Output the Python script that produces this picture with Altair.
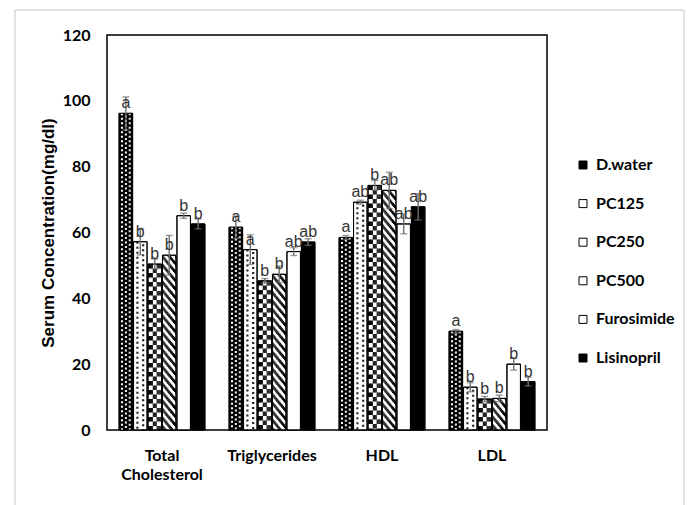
import altair as alt
import pandas as pd

categories = ["Total Cholesterol", "Triglycerides", "HDL", "LDL"]
groups = ["D.water", "PC125", "PC250", "PC500", "Furosimide", "Lisinopril"]

# mean serum concentration (mg/dl), one list per group in category order
d_water = [96.2, 61.6, 58.5, 30.0]
pc125 = [57.2, 54.8, 69.2, 13.0]
pc250 = [50.4, 45.3, 74.3, 9.4]
pc500 = [53.1, 47.3, 72.8, 9.6]
furosimide = [65.1, 54.2, 62.6, 20.0]
lisinopril = [62.6, 57.1, 67.8, 14.7]

# half-length of each error bar (mg/dl)
err_d_water = [5.0, 3.4, 0.6, 0.5]
err_pc125 = [4.0, 4.5, 0.6, 1.4]
err_pc250 = [1.5, 0.7, 1.5, 0.8]
err_pc500 = [6.0, 2.5, 5.5, 1.0]
err_furosimide = [0.8, 1.2, 3.0, 1.8]
err_lisinopril = [1.5, 1.0, 4.0, 1.3]

# significance letters
let_d_water = ["a", "a", "a", "a"]
let_pc125 = ["b", "a", "ab", "b"]
let_pc250 = ["b", "b", "b", "b"]
let_pc500 = ["b", "b", "ab", "b"]
let_furosimide = ["b", "ab", "ab", "b"]
let_lisinopril = ["b", "ab", "ab", "b"]

means = [d_water, pc125, pc250, pc500, furosimide, lisinopril]
errs = [err_d_water, err_pc125, err_pc250, err_pc500, err_furosimide, err_lisinopril]
letters = [let_d_water, let_pc125, let_pc250, let_pc500, let_furosimide, let_lisinopril]

rows = []
for gi, g in enumerate(groups):
    for ci, c in enumerate(categories):
        m, e = means[gi][ci], errs[gi][ci]
        rows.append({"category": c, "group": g, "value": m,
                     "lo": m - e, "hi": m + e, "letter": letters[gi][ci]})
df = pd.DataFrame(rows)

BOLD = "Lato, Liberation Sans, sans-serif"
WIDE = "Liberation Sans, Arial, sans-serif"
ERR_COLOR = "#707070"

x_enc = alt.X(
    "category:N", sort=categories,
    scale=alt.Scale(domain=categories, paddingInner=0.22, paddingOuter=0.11),
    axis=alt.Axis(title=None, labelAngle=0, ticks=False, domain=False,
                  labelFont=BOLD, labelFontSize=16, labelFontWeight="bold",
                  labelColor="black", labelPadding=17, labelLineHeight=19,
                  labelExpr="datum.label == 'Total Cholesterol' ? ['Total', 'Cholesterol'] : datum.label"),
)
y_scale = alt.Scale(domain=[0, 120], nice=False)
y_axis = alt.Axis(values=[0, 20, 40, 60, 80, 100, 120], grid=False, ticks=False,
                  domain=False, tickSize=0, labelPadding=17,
                  labelFont=BOLD, labelFontSize=16, labelFontWeight="bold",
                  labelColor="black", title="Serum Concentration(mg/dl)",
                  titleFont=WIDE, titleFontSize=17, titleFontWeight="bold",
                  titleColor="black", titlePadding=5)

group_off = alt.XOffset("group:N",
                        scale=alt.Scale(domain=groups, paddingInner=1 / 15, paddingOuter=0))

# Filled bars (solid base colour of every pattern) carrying the legend
bars = alt.Chart(df).mark_bar(stroke="black", strokeWidth=1).encode(
    x=x_enc,
    y=alt.Y("value:Q", scale=y_scale, axis=y_axis),
    xOffset=group_off,
    fill=alt.Fill("group:N",
                  scale=alt.Scale(domain=groups,
                                  range=["black", "white", "white", "white", "white", "black"]),
                  legend=alt.Legend(title=None, orient="none", legendX=468, legendY=122,
                                    symbolType="square", symbolSize=64,
                                    symbolStrokeColor="black", symbolStrokeWidth=1,
                                    labelFont=BOLD, labelFontSize=16,
                                    labelFontWeight="bold", labelColor="black",
                                    labelOffset=5, rowPadding=22.6, padding=0)),
)

# Hatch textures: each bar is split into 1-px column slots; each textured
# column is a dashed rule running from the bar top down to zero.
def slot_key(i, j):
    return f"{i}-{j:02d}"

slot_domain = [slot_key(i, j) for i in range(6) for j in range(15 if i < 5 else 14)]
slot_off_scale = alt.Scale(domain=slot_domain, paddingInner=0, paddingOuter=0)

texture_styles = []  # (group, slots, colour, dash, dash offset)
texture_styles.append(("D.water", [2, 3, 10, 11], "white", [2.0, 2.5], 0))
texture_styles.append(("D.water", [6, 7], "white", [2.0, 2.5], 2.25))
texture_styles.append(("PC125", [3, 4], "black", [2.0, 3.0], 0))
texture_styles.append(("PC125", [9, 10], "black", [2.0, 3.0], 2.5))
texture_styles.append(("PC250", [0, 1, 2, 3, 4, 9, 10, 11, 12, 13], "black", [4.5, 4.5], 0))
texture_styles.append(("PC250", [5, 6, 7, 8], "black", [4.5, 4.5], 4.5))
slot_px = 85.8 / 89
for j in range(14):
    period = 8.5
    texture_styles.append(("PC500", [j], "black", [4.0, 4.5],
                           round((period - 1.2 * slot_px * j) % period, 2)))

texture_layers = []
for g, slots, colour, dash, offset in texture_styles:
    gi = groups.index(g)
    sub = df[df["group"] == g][["category", "value"]]
    tex = pd.concat([sub.assign(slot=slot_key(gi, j)) for j in slots], ignore_index=True)
    texture_layers.append(
        alt.Chart(tex).mark_rule(stroke=colour, strokeWidth=1.05, strokeDash=dash,
                                 strokeDashOffset=offset, strokeCap="butt").encode(
            x=x_enc,
            y=alt.Y("value:Q", scale=y_scale),
            y2=alt.datum(0),
            xOffset=alt.XOffset("slot:N", scale=slot_off_scale),
        )
    )
textures = alt.layer(*texture_layers)

base = alt.Chart(df).encode(x=x_enc, xOffset=group_off)
outline = base.mark_bar(fillOpacity=0, stroke="black", strokeWidth=1).encode(
    y=alt.Y("value:Q", scale=y_scale))
err_line = base.mark_rule(color=ERR_COLOR, strokeWidth=1.4).encode(
    y=alt.Y("lo:Q", scale=y_scale), y2="hi:Q")
cap_hi = base.mark_tick(color=ERR_COLOR, size=7, thickness=1.4).encode(
    y=alt.Y("hi:Q", scale=y_scale))
cap_lo = base.mark_tick(color=ERR_COLOR, size=7, thickness=1.4).encode(
    y=alt.Y("lo:Q", scale=y_scale))
labels = base.mark_text(font=WIDE, fontSize=16, color="#333333", dy=-5,
                        baseline="alphabetic").encode(
    y=alt.Y("value:Q", scale=y_scale), text="letter:N")
top = alt.layer(outline, err_line, cap_hi, cap_lo, labels)

# light chart-area border
edge = pd.DataFrame({"edge": [0]})
border_top = alt.Chart(edge).mark_rule(color="#d9d9d9", strokeWidth=1.5).encode(
    x=alt.value(-92), x2=alt.value(577), y=alt.value(-25))
border_left = alt.Chart(edge).mark_rule(color="#d9d9d9", strokeWidth=1.5).encode(
    x=alt.value(-92), y=alt.value(-25), y2=alt.value(475))
border_right = alt.Chart(edge).mark_rule(color="#d9d9d9", strokeWidth=1.5).encode(
    x=alt.value(577), y=alt.value(-25), y2=alt.value(475))

chart = alt.layer(
    bars, textures, top, border_top, border_left, border_right
).resolve_scale(
    xOffset="independent"
).properties(
    width=440, height=395,
    background="white",
    autosize=alt.AutoSizeParams(type="none"),
    padding={"left": 107, "top": 35, "right": 142, "bottom": 75},
).configure_view(
    stroke="black", strokeWidth=1.5
)

chart.save("out.html", embed_options={"renderer": "svg", "actions": False})
